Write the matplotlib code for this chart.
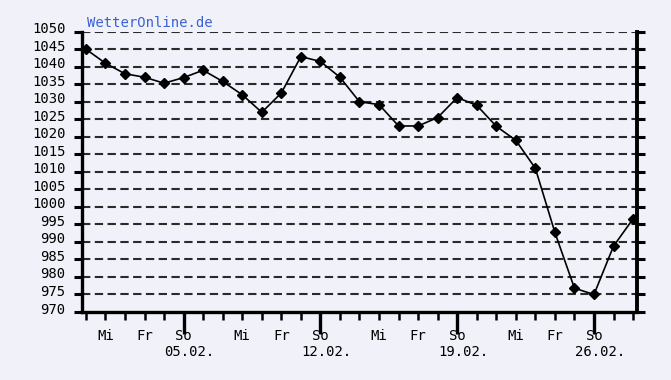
import matplotlib
matplotlib.use("Agg")
import matplotlib.pyplot as plt
import matplotlib.transforms as mtrans

# pressure (hPa), one value per day from 31.01. to 28.02.
days = list(range(29))
pressure = [1045, 1041, 1038, 1037, 1035.3, 1036.9, 1039, 1035.8, 1032, 1027,
            1032.5, 1042.9, 1041.5, 1037, 1030, 1029.2, 1023.1, 1023.1, 1025.5, 1031.2,
            1029, 1023, 1019, 1011, 992.7, 976.8, 975, 988.8, 996.6]

# weekday labels (day index -> text) and sunday dates
weekday_pos = [1, 3, 5, 8, 10, 12, 15, 17, 19, 22, 24, 26]
weekday_txt = ["Mi", "Fr", "So"] * 4
sunday_pos = [5, 12, 19, 26]
sunday_txt = ["05.02.", "12.02.", "19.02.", "26.02."]
y_ticks = list(range(970, 1051, 5))

bg = "#F1F1F9"
plt.rcParams["font.family"] = "DejaVu Sans Mono"
plt.rcParams["lines.scale_dashes"] = False

fig = plt.figure(figsize=(6.71, 3.8), dpi=100, facecolor=bg)
ax = fig.add_axes([0.1222, 0.1789, 0.8271, 0.7377], facecolor=bg)

# dashed horizontal grid
for v in y_ticks[1:]:
    ax.axhline(v, color="#2a2a2a", lw=1.5, linestyle=(0, (6, 3.2)), zorder=1)

ax.plot(days, pressure, color="black", lw=1.2, marker="D", ms=5, zorder=3)

ax.set_xlim(-0.2, 28.2)
ax.set_ylim(970, 1050)

ax.spines["left"].set_linewidth(2.4)
ax.spines["bottom"].set_linewidth(2.4)
ax.spines["right"].set_linewidth(2.8)
ax.spines["top"].set_visible(False)

ax.set_yticks(y_ticks)
ax.set_yticklabels([str(v) for v in y_ticks], fontsize=10)
ax.tick_params(axis="y", which="major", direction="out", length=6, width=2.2,
               left=True, right=True, labelleft=True, pad=6)
off = mtrans.ScaledTranslation(0, 4 / 100, fig.dpi_scale_trans)
for lab in ax.get_yticklabels():
    lab.set_transform(lab.get_transform() + off)

ax.set_xticks(sunday_pos)
ax.set_xticks(days, minor=True)
ax.set_xticklabels([])
ax.tick_params(axis="x", which="major", direction="out", length=16, width=2.4)
ax.tick_params(axis="x", which="minor", direction="out", length=6, width=1.8)

xt = ax.get_xaxis_transform()
for p, t in zip(weekday_pos, weekday_txt):
    ax.text(p, -0.086, t, transform=xt, ha="center", va="center", fontsize=10)
for p, t in zip(sunday_pos, sunday_txt):
    ax.text(p + 0.3, -0.143, t, transform=xt, ha="center", va="center", fontsize=10)

fig.text(87 / 671, 1 - 23 / 380, "WetterOnline.de", color="#3B62D6",
         ha="left", va="center", fontsize=10)

fig.savefig("out.png", dpi=100, facecolor=bg)
